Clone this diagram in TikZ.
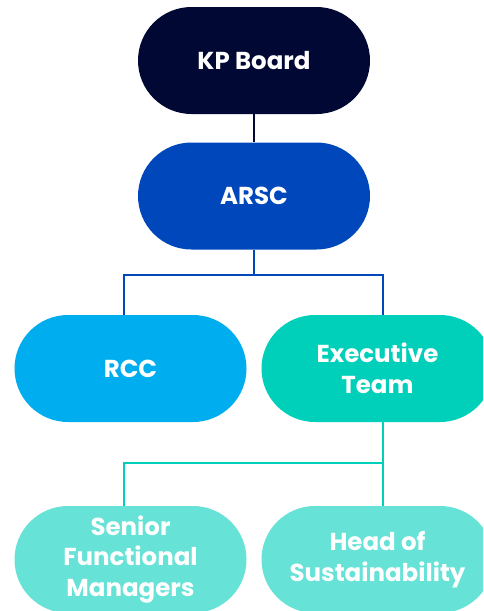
\documentclass[tikz,border=0pt]{standalone}
\usepackage{fontspec}
\setmainfont{Poppins}
\usetikzlibrary{shapes.misc}
\definecolor{navy}{HTML}{000833}
\definecolor{royal}{HTML}{0047BB}
\definecolor{sky}{HTML}{00AEEF}
\definecolor{teal}{HTML}{00CFB9}
\definecolor{mint}{HTML}{66E2D7}
\tikzset{
  pill/.style={rounded rectangle, minimum width=232pt, minimum height=107pt, inner sep=0pt,
    text=white, font=\bfseries\fontsize{24.5}{30.5}\selectfont, align=center},
  conn/.style={line width=1.6pt}
}
\begin{document}
\begin{tikzpicture}[x=1pt,y=1pt]
\useasboundingbox (0,0) rectangle (483,-611);
\clip (0,0) rectangle (483,-611);
\node[pill, fill=navy] (kp) at (254,-60.5) {KP Board};
\node[pill, fill=royal] (arsc) at (254,-196) {ARSC};
\node[pill, fill=sky] (rcc) at (130.5,-368.5) {RCC};
\node[pill, fill=teal] (exec) at (377.5,-368.5) {Executive\\Team};
\node[pill, fill=mint] (sfm) at (130.5,-559.5) {Senior\\Functional\\Managers};
\node[pill, fill=mint] (hos) at (377.5,-559.5) {Head of\\Sustainability};
\coordinate (j1) at (254,-275);
\coordinate (j2) at (383,-463);
\draw[conn, navy] (kp.south) -- (arsc.north);
\draw[conn, royal] (arsc.south) -- (j1);
\draw[conn, royal] (124,-315) |- (j1) -| (383,-315);
\draw[conn, teal] (383,-422) -- (j2);
\draw[conn, teal] (124,-506) |- (j2) -- (383,-506);
\end{tikzpicture}
\end{document}
